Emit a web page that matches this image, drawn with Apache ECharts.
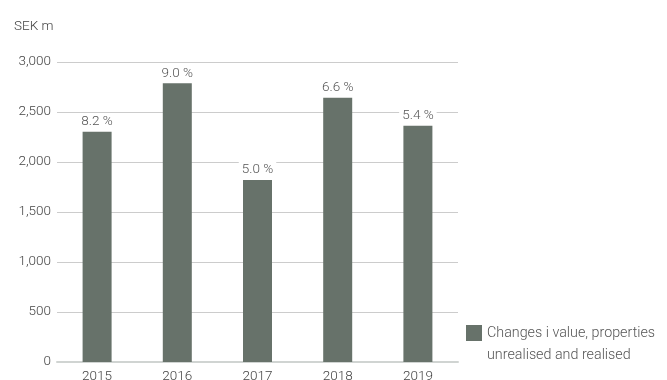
<!DOCTYPE html>
<html>
<head>
<meta charset="utf-8">
<script src="https://cdn.jsdelivr.net/npm/echarts@6/dist/echarts.min.js"></script>
<style>html,body{margin:0;padding:0;background:#fff;}#c{width:667px;height:380px;}</style>
</head>
<body>
<div id="c"></div>
<script>
const categories = ['2015', '2016', '2017', '2018', '2019'];
const values = [2303, 2787, 1820, 2643, 2363];
const pctLabels = ['8.2 %', '9.0 %', '5.0 %', '6.6 %', '5.4 %'];
const yTicks = [0, 500, 1000, 1500, 2000, 2500, 3000];
const seriesName = 'Changes i value, properties\nunrealised and realised';

const chart = echarts.init(document.getElementById('c'));
const font = 'Roboto, "Noto Sans", sans-serif';
chart.setOption({
  animation: false,
  textStyle: { fontFamily: font, fontWeight: 300 },
  grid: { left: 57, right: 209, top: 62, bottom: 18, outerBoundsMode: 'none', containLabel: false },
  graphic: [{
    type: 'text', left: 14, top: 20,
    style: { text: 'SEK m', fontSize: 13.5, fill: '#444', fontFamily: font, fontWeight: 300 }
  }],
  legend: {
    left: 466, top: 300,
    padding: 0,
    itemWidth: 16, itemHeight: 16,
    itemGap: 8,
    icon: 'rect',
    formatter: name => '\n' + name,
    textStyle: { fontSize: 14.3, color: '#555', fontWeight: 300, lineHeight: 22, fontFamily: font },
    data: [seriesName]
  },
  xAxis: {
    type: 'category',
    data: categories,
    axisLine: { lineStyle: { color: '#d0d4d2', width: 2 } },
    axisTick: { show: false },
    axisLabel: { color: '#444', fontSize: 13.5, fontWeight: 300, margin: 8 }
  },
  yAxis: {
    type: 'value',
    min: 0, max: 3000, interval: 500,
    axisLine: { show: false },
    axisTick: { show: false },
    axisLabel: { color: '#444', fontSize: 13.5, fontWeight: 300, margin: 6,
      formatter: v => yTicks.includes(v) ? v.toLocaleString('en-US') : '' },
    splitLine: { lineStyle: { color: '#cccccc', width: 1 } }
  },
  series: [{
    name: seriesName,
    type: 'bar',
    data: values,
    barWidth: 29,
    itemStyle: { color: '#67726a' },
    label: {
      show: true, position: 'top', distance: 2,
      formatter: p => pctLabels[p.dataIndex],
      color: '#555', fontSize: 13.5, fontWeight: 300,
      backgroundColor: '#fff', padding: [1, 3]
    }
  }]
});
</script>
</body>
</html>
